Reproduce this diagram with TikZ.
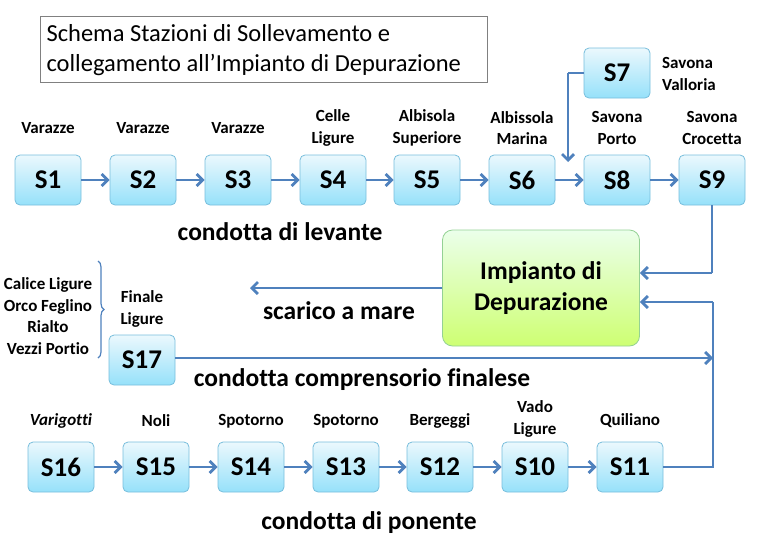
\documentclass[tikz,border=0pt]{standalone}
\usepackage{fontspec}
\setmainfont{Carlito}[Ligatures={NoCommon}]
\usetikzlibrary{arrows.meta,decorations.pathreplacing}
\definecolor{edge}{RGB}{79,129,189}
\definecolor{boxtop}{RGB}{235,248,253}
\definecolor{boxbot}{RGB}{150,225,250}
\definecolor{boxln}{RGB}{120,190,220}
\tikzset{
 st/.style={draw=boxln,rounded corners=5pt,top color=boxtop,bottom color=boxbot,minimum width=66pt,minimum height=50pt,font=\bfseries\fontsize{27}{27}\selectfont,line width=0.8pt},
 lab/.style={font=\bfseries\fontsize{17}{21.5}\selectfont,align=center},
 big/.style={font=\bfseries\fontsize{25.5}{31}\selectfont},
 arr/.style={draw=edge,line width=2.8pt,-{Straight Barb[length=6pt,width=12pt]}},
 ln/.style={draw=edge,line width=2.8pt}
}
\begin{document}
\begin{tikzpicture}[x=1pt,y=-1pt]
\useasboundingbox (0,0) rectangle (763,544);
\node[draw=gray,line width=0.8pt,minimum width=447pt,minimum height=66pt,anchor=north west,inner sep=0pt] (title) at (40,16) {};
\node[anchor=west,align=left,font=\fontsize{24.5}{30}\selectfont] (tt) at (43,50) {Schema Stazioni di Sollevamento e\\collegamento all’Impianto di Depurazione};
\foreach \n/\x in {1/48,2/143,3/238,4/333,5/427,6/522,8/617,9/712}{\node[st] (S\n) at (\x,180) {S\n};}
\node[st] (S7) at (617,73) {S7};
\node[st] (S17) at (142,360) {S17};
\foreach \n/\x in {16/61,15/156,14/251,13/346,12/440,10/535,11/630}{\node[st] (S\n) at (\x,467) {S\n};}
\node[draw=green!40!gray!60,rounded corners=10pt,top color=green!8!white,bottom color=green!35!yellow!55!white,minimum width=197pt,minimum height=116pt,big,align=center,line width=0.8pt] (imp) at (541,288) {Impianto di\\Depurazione};
% labels
\node[lab] (l1) at (48,128) {Varazze};
\node[lab] (l2) at (143,128) {Varazze};
\node[lab] (l3) at (238,128) {Varazze};
\node[lab] (l4) at (333,128) {Celle\\Ligure};
\node[lab] (l5) at (427,128) {Albisola\\Superiore};
\node[lab] (l6) at (522,128) {Albissola\\Marina};
\node[lab] (l8) at (617,128) {Savona\\Porto};
\node[lab] (l9) at (712,128) {Savona\\Crocetta};
\node[lab,align=left] (l7) at (689,74) {Savona\\Valloria};
\node[lab] (l17) at (142,309) {Finale\\Ligure};
\node[lab,font=\bfseries\itshape\fontsize{17}{21.5}\selectfont] (l16) at (61,421) {Varigotti};
\node[lab] (l15) at (156,421) {Noli};
\node[lab] (l14) at (251,421) {Spotorno};
\node[lab] (l13) at (346,421) {Spotorno};
\node[lab] (l12) at (440,421) {Bergeggi};
\node[lab] (l10) at (535,419) {Vado\\Ligure};
\node[lab] (l11) at (630,421) {Quiliano};
\node[lab] (lc) at (48,316) {Calice Ligure\\Orco Feglino\\Rialto\\Vezzi Portio};
\draw[edge,line width=1.2pt,decorate,decoration={brace,amplitude=6pt}] (98,261) -- (98,358);
\node[big] (t1) at (280,232) {condotta di levante};
\node[big] (t2) at (339,311) {scarico a mare};
\node[big] (t3) at (362,380) {condotta comprensorio finalese};
\node[big] (t4) at (369,523) {condotta di ponente};
% connectors
\foreach \a/\b in {S1/S2,S2/S3,S3/S4,S4/S5,S5/S6,S6/S8,S8/S9,S16/S15,S15/S14,S14/S13,S13/S12,S12/S10,S10/S11}{\draw[arr] (\a) -- (\b);}
\coordinate (k7) at (568,73);
\coordinate (k7e) at (568,162);
\draw[ln] (S7.west) -- (k7);
\draw[arr] (k7) -- (k7e);
\coordinate (k9) at (712,273);
\draw[ln] (S9.south) -- (k9);
\draw[arr] (k9) -- (imp.east |- k9);
\coordinate (k11) at (713,467);
\coordinate (k11b) at (713,302);
\draw[ln] (S11.east) -- (k11) -- (k11b);
\draw[arr] (k11b) -- (imp.east |- k11b);
\coordinate (k17) at (713,358);
\draw[arr] (S17.east |- k17) -- (k17);
\coordinate (sea) at (250,288);
\draw[arr] (imp.west) -- (sea);
\end{tikzpicture}
\end{document}
